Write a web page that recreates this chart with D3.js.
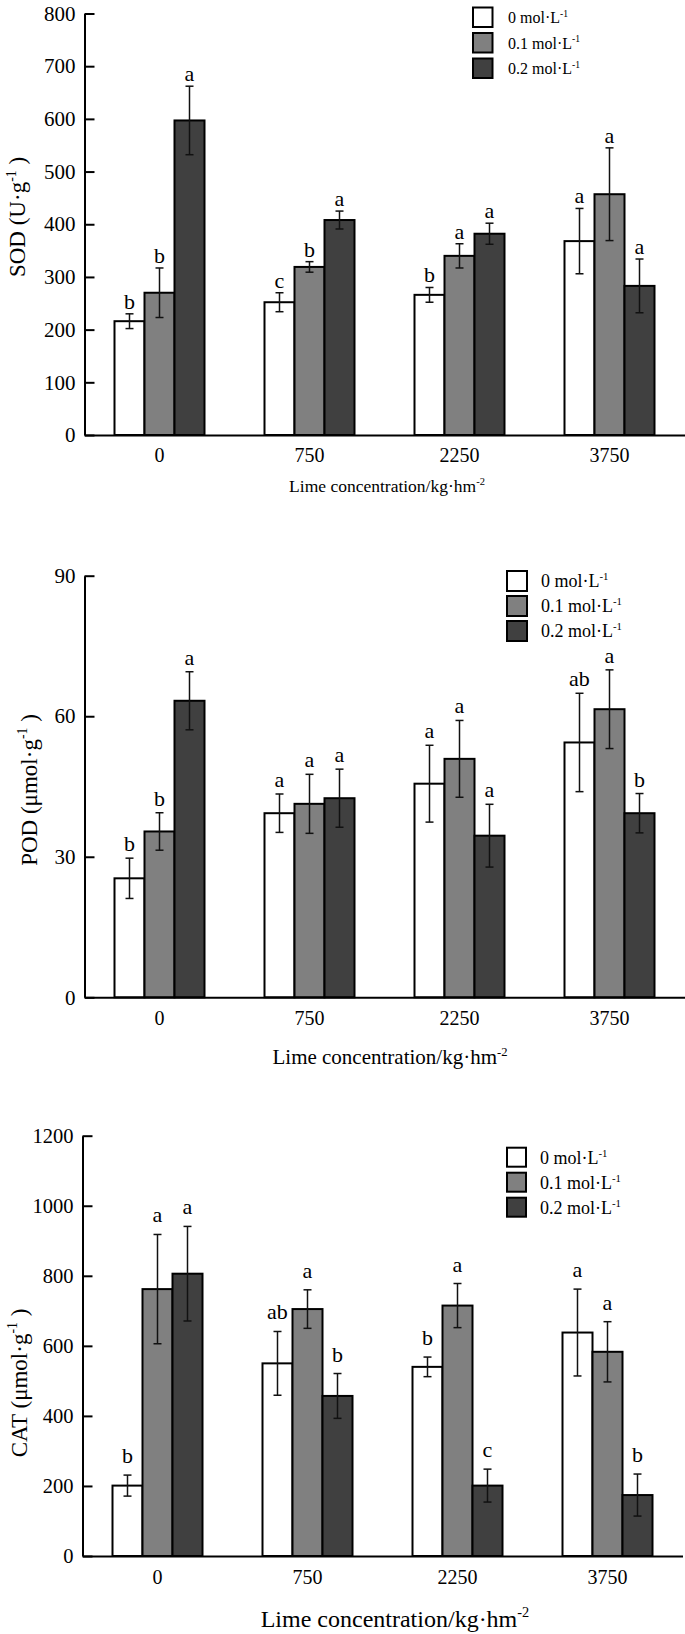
<!DOCTYPE html>
<html><head><meta charset="utf-8">
<script src="https://cdn.jsdelivr.net/npm/d3@7"></script>
<style>
body{margin:0;background:#fff}
svg text{font-family:"Liberation Serif","Times New Roman",serif;fill:#000}
</style>
</head><body>
<svg id="c" width="685" height="1634"></svg>
<script>
// ---------- data ----------
const categories = ["0", "750", "2250", "3750"];
const seriesNames = ["0 mol·L", "0.1 mol·L", "0.2 mol·L"];
const seriesSup = "-1";
const xTitleMain = "Lime concentration/kg·hm";
const xTitleSup = "-2";

// SOD (U·g-1)
const sod0 = [216, 252, 266, 368];
const sod1 = [270, 319, 340, 457];
const sod2 = [597, 408, 382, 283];
const sodErr0 = [14, 18, 14, 62];
const sodErr1 = [47, 10, 23, 88];
const sodErr2 = [65, 17, 20, 51];
const sodLab0 = ["b", "c", "b", "a"];
const sodLab1 = ["b", "b", "a", "a"];
const sodLab2 = ["a", "a", "a", "a"];
const sodTicks = [0, 100, 200, 300, 400, 500, 600, 700, 800];

// POD (μmol·g-1)
const pod0 = [25.4, 39.3, 45.6, 54.4];
const pod1 = [35.4, 41.3, 50.9, 61.5];
const pod2 = [63.3, 42.5, 34.5, 39.3];
const podErr0 = [4.3, 4.1, 8.2, 10.5];
const podErr1 = [4.0, 6.3, 8.2, 8.4];
const podErr2 = [6.2, 6.2, 6.7, 4.2];
const podLab0 = ["b", "a", "a", "ab"];
const podLab1 = ["b", "a", "a", "a"];
const podLab2 = ["a", "a", "a", "b"];
const podTicks = [0, 30, 60, 90];

// CAT (μmol·g-1)
const cat0 = [201, 550, 540, 638];
const cat1 = [762, 705, 715, 583];
const cat2 = [806, 457, 201, 174];
const catErr0 = [30, 91, 28, 124];
const catErr1 = [156, 55, 63, 86];
const catErr2 = [135, 64, 47, 60];
const catLab0 = ["b", "ab", "b", "a"];
const catLab1 = ["a", "a", "a", "a"];
const catLab2 = ["a", "b", "c", "b"];
const catTicks = [0, 200, 400, 600, 800, 1000, 1200];

const fills = ["#ffffff", "#808080", "#404040"];

// ---------- layout ----------
const panels = [
  { yTitle: "SOD (U·g", values: [sod0, sod1, sod2], errs: [sodErr0, sodErr1, sodErr2],
    labels: [sodLab0, sodLab1, sodLab2], ticks: sodTicks, max: 800,
    left: 84.5, right: 685, top: 13.5, bottom: 435, tickFont: 21,
    yTitleX: 25, yTitleY: 217, yTitleSize: 23,
    xTickBase: 462, xTickFont: 20, xTitleBase: 492, xTitleSize: 17.5, xTitleX: 387,
    legX: 473, legY: 7.5, legStep: 25.5, legBox: 19.5, legTextX: 508, legFont: 16, legBaseOff: 15.5,
    labGap: 5, labFont: 22 },
  { yTitle: "POD (μmol·g", values: [pod0, pod1, pod2], errs: [podErr0, podErr1, podErr2],
    labels: [podLab0, podLab1, podLab2], ticks: podTicks, max: 90,
    left: 84.5, right: 685, top: 575.7, bottom: 997.3, tickFont: 21,
    yTitleX: 36.5, yTitleY: 790, yTitleSize: 23,
    xTickBase: 1025, xTickFont: 20, xTitleBase: 1064, xTitleSize: 21, xTitleX: 390,
    legX: 507, legY: 571, legStep: 25, legBox: 20, legTextX: 541, legFont: 18, legBaseOff: 16,
    labGap: 7, labFont: 22 },
  { yTitle: "CAT (μmol·g", values: [cat0, cat1, cat2], errs: [catErr0, catErr1, catErr2],
    labels: [catLab0, catLab1, catLab2], ticks: catTicks, max: 1200,
    left: 82.5, right: 683, top: 1135.7, bottom: 1556, tickFont: 20.5,
    yTitleX: 26.5, yTitleY: 1383, yTitleSize: 23,
    xTickBase: 1584, xTickFont: 20, xTitleBase: 1627, xTitleSize: 24, xTitleX: 395,
    legX: 507, legY: 1147.7, legStep: 25, legBox: 19, legTextX: 540, legFont: 18, legBaseOff: 16,
    labGap: 12, labFont: 22 }
];

const svg = d3.select("#c");

function supText(sel, main, sup, after, size) {
  sel.append("tspan").text(main);
  sel.append("tspan").text(sup).attr("font-size", size * 0.6).attr("dy", -size * 0.4);
  if (after) sel.append("tspan").text(after).attr("dy", size * 0.4);
}

panels.forEach(p => {
  const g = svg.append("g");
  const x = d3.scaleBand().domain(categories).range([p.left, p.left + 600]).padding(0);
  const inner = d3.scaleBand().domain([0, 1, 2]).range([30, 120]).padding(0);
  const y = d3.scaleLinear().domain([0, p.max]).range([p.bottom, p.top]);

  // bars
  p.values.forEach((vals, s) => {
    g.selectAll(null).data(vals).enter().append("rect")
      .attr("x", (d, i) => x(categories[i]) + inner(s))
      .attr("y", d => y(d))
      .attr("width", inner.bandwidth())
      .attr("height", d => y(0) - y(d))
      .attr("fill", fills[s]).attr("stroke", "#000").attr("stroke-width", 2);
  });

  // error bars + letters
  p.values.forEach((vals, s) => {
    vals.forEach((v, i) => {
      const cx = x(categories[i]) + inner(s) + inner.bandwidth() / 2;
      const e = p.errs[s][i];
      const yt = y(v + e), yb = y(v - e);
      g.append("line").attr("x1", cx).attr("x2", cx).attr("y1", yt).attr("y2", yb)
        .attr("stroke", "#111").attr("stroke-width", 1.5);
      [yt, yb].forEach(yy => g.append("line").attr("x1", cx - 4).attr("x2", cx + 4)
        .attr("y1", yy).attr("y2", yy).attr("stroke", "#111").attr("stroke-width", 1.5));
      g.append("text").attr("x", cx).attr("y", yt - p.labGap)
        .attr("text-anchor", "middle").attr("font-size", p.labFont).text(p.labels[s][i]);
    });
  });

  // y axis
  const ya = g.append("g").attr("transform", `translate(${p.left},0)`)
    .call(d3.axisLeft(y).tickValues(p.ticks).tickSizeInner(-10).tickSizeOuter(0).tickPadding(9)
      .tickFormat(d3.format("d")));
  ya.attr("font-family", null).attr("font-size", null);
  ya.select(".domain").attr("stroke", "#000").attr("stroke-width", 2);
  ya.selectAll(".tick line").attr("stroke", "#000").attr("stroke-width", 2);
  ya.selectAll(".tick text").attr("font-size", p.tickFont).attr("fill", "#000");

  // x axis
  const xa = g.append("g").attr("transform", `translate(0,${p.bottom})`)
    .call(d3.axisBottom(x).tickSize(0).tickSizeOuter(0));
  xa.attr("font-family", null).attr("font-size", null);
  xa.select(".domain").attr("stroke", "#000").attr("stroke-width", 2);
  xa.selectAll(".tick text").attr("font-size", p.xTickFont).attr("fill", "#000")
    .attr("dy", null).attr("y", p.xTickBase - p.bottom);

  // y title
  const yt = g.append("text")
    .attr("transform", `translate(${p.yTitleX},${p.yTitleY}) rotate(-90)`)
    .attr("text-anchor", "middle").attr("font-size", p.yTitleSize);
  supText(yt, p.yTitle, seriesSup, " )", p.yTitleSize);

  // x title
  const xt = g.append("text").attr("x", p.xTitleX).attr("y", p.xTitleBase)
    .attr("text-anchor", "middle").attr("font-size", p.xTitleSize);
  supText(xt, xTitleMain, xTitleSup, null, p.xTitleSize);

  // legend
  seriesNames.forEach((n, s) => {
    const yy = p.legY + s * p.legStep;
    g.append("rect").attr("x", p.legX).attr("y", yy).attr("width", p.legBox).attr("height", p.legBox)
      .attr("fill", fills[s]).attr("stroke", "#000").attr("stroke-width", 2);
    const t = g.append("text").attr("x", p.legTextX).attr("y", yy + p.legBaseOff)
      .attr("font-size", p.legFont);
    supText(t, n, seriesSup, null, p.legFont);
  });
});
</script>
</body></html>
